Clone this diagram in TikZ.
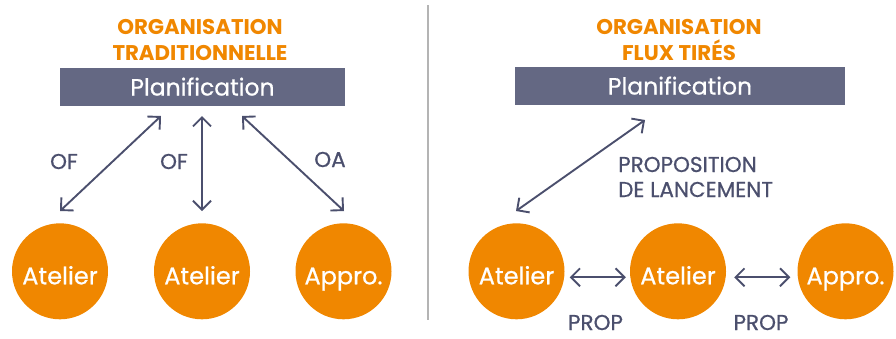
\documentclass[tikz,border=0pt]{standalone}
\usepackage{fontspec}
\setmainfont{Poppins}
\newfontfamily\medfont[FakeBold=0.7]{Poppins}
\usetikzlibrary{arrows.meta}
\definecolor{orng}{HTML}{F08700}
\definecolor{slate}{HTML}{646883}
\definecolor{ink}{HTML}{4B4F6D}
\definecolor{divider}{HTML}{B4B4B4}
\begin{document}
\begin{tikzpicture}[x=1pt,y=-1pt,
  title/.style={text=orng,font=\bfseries\fontsize{21.3}{24}\selectfont,anchor=base,inner sep=0},
  planbox/.style={fill=slate,text=white,font=\medfont\fontsize{23.5}{28}\selectfont,inner sep=0,minimum height=38pt,text height=17pt,text depth=-2pt},
  unit/.style={circle,fill=orng,text=white,minimum size=96pt,inner sep=0,font=\medfont\fontsize{24}{28}\selectfont,text height=26pt,text depth=0pt},
  lbl/.style={text=ink,font=\medfont\fontsize{21.5}{24}\selectfont,anchor=base,inner sep=0},
  tipb/.tip={Straight Barb[length=9pt,width=18pt]},
  link/.style={draw=ink,line width=1.9pt,tipb-tipb}
]
\useasboundingbox (0,0) rectangle (896,338);

% divider
\draw[divider,line width=2pt] (428,5) -- (428,320);

% ---------- left panel ----------
\node[title] (tl1) at (200,34) {ORGANISATION};
\node[title] (tl2) at (200,60) {TRADITIONNELLE};
\node[planbox,minimum width=285pt] (planL) at (202.5,87) {Planification};
\node[unit] (l1) at (60,271.3) {Atelier};
\node[unit] (l2) at (202,271.3) {Atelier};
\node[unit] (l3) at (343.5,271.3) {Appro.};

\coordinate (a1s) at (161,116);
\coordinate (a1e) at (60,211);
\coordinate (a2s) at (202,116);
\coordinate (a2e) at (202,211);
\coordinate (a3s) at (242,116);
\coordinate (a3e) at (344,211);
\draw[link] (a1s) -- (a1e);
\draw[link] (a2s) -- (a2e);
\draw[link] (a3s) -- (a3e);

\node[lbl] (of1) at (64,169) {OF};
\node[lbl] (of2) at (174,169) {OF};
\node[lbl] (oa) at (330,167) {OA};

% ---------- right panel ----------
\node[title] (tr1) at (679,34) {ORGANISATION};
\node[title] (tr2) at (679,60) {FLUX TIRÉS};
\node[planbox,minimum width=330pt] (planR) at (680,86) {Planification};
\node[unit] (r1) at (516.5,271.3) {Atelier};
\node[unit] (r2) at (678,271.3) {Atelier};
\node[unit] (r3) at (845.5,271.3) {Appro.};

\coordinate (b1s) at (645,120);
\coordinate (b1e) at (516,211);
\draw[link] (b1s) -- (b1e);
\draw[link] ([yshift=-6pt]r1.east) ++(5,0) coordinate (h1s) -- ([yshift=-6pt,xshift=-4pt]r2.west);
\draw[link] ([yshift=-6pt]r2.east) ++(8,0) coordinate (h2s) -- ([yshift=-6pt,xshift=-7pt]r3.west);

\node[lbl,anchor=base west] (prop) at (618,172) {PROPOSITION};
\node[lbl,anchor=base west] (lanc) at (618,197) {DE LANCEMENT};
\node[lbl,text depth=0pt] (p1) at (595.5,330) {PROP};
\node[lbl,text depth=0pt] (p2) at (761,330) {PROP};
\end{tikzpicture}
\end{document}
